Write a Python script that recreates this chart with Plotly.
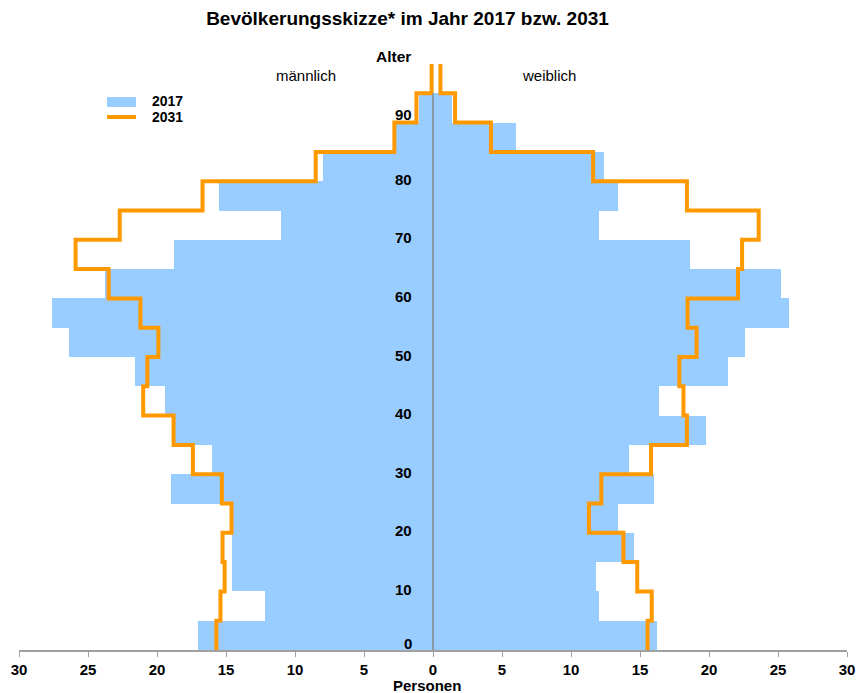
import plotly.graph_objects as go

# Age groups (lower bound of 5-year groups)
age_groups = [0, 5, 10, 15, 20, 25, 30, 35, 40, 45, 50, 55, 60, 65, 70, 75, 80, 85, 90, 95]
group_width = 5

male_2017 = [17.0, 12.2, 14.6, 14.6, 14.6, 19.0, 16.0, 18.7, 19.4, 21.6,
             26.4, 27.6, 23.8, 18.8, 11.0, 15.5, 8.0, 2.7, 1.03, 0.0]
female_2017 = [16.2, 12.0, 11.8, 14.6, 13.4, 16.0, 14.2, 19.8, 16.4, 21.4,
               22.6, 25.8, 25.2, 18.6, 12.0, 13.4, 12.4, 6.0, 1.36, 0.0]
male_2031 = [15.7, 15.4, 15.1, 15.25, 14.6, 15.3, 17.4, 18.8, 21.0, 20.7,
             19.9, 21.2, 23.5, 25.9, 22.7, 16.7, 8.5, 2.8, 1.2, 0.1]
female_2031 = [15.55, 15.85, 14.8, 13.8, 11.3, 12.2, 15.8, 18.4, 18.15, 17.85,
               19.1, 18.45, 22.1, 22.4, 23.6, 18.4, 11.6, 4.2, 1.6, 0.54]

x_ticks = [-30, -25, -20, -15, -10, -5, 0, 5, 10, 15, 20, 25, 30]
y_tick_ages = [0, 10, 20, 30, 40, 50, 60, 70, 80, 90]

title_text = "Bevölkerungsskizze* im Jahr 2017 bzw. 2031"
series_names = ["2017", "2031"]

BLUE = "#99CCFF"
ORANGE = "#FF9900"
FONT = "Liberation Sans, Arial, sans-serif"

fig = go.Figure()

# 2017 bars (male negative, female positive)
centers = [a + group_width / 2 for a in age_groups]
fig.add_trace(go.Bar(
    x=[-v for v in male_2017] + female_2017,
    y=centers + centers,
    width=[group_width] * (2 * len(age_groups)),
    orientation="h",
    marker=dict(color=BLUE, line=dict(width=0)),
    name=series_names[0],
    showlegend=False,
))

# 2031 step lines
step_y = age_groups + [age_groups[-1] + group_width]
for vals, sign in ((male_2031, -1), (female_2031, 1)):
    fig.add_trace(go.Scatter(
        x=[sign * v for v in vals] + [sign * vals[-1]],
        y=step_y,
        mode="lines",
        line=dict(color=ORANGE, width=4, shape="vh"),
        name=series_names[1],
        showlegend=False,
    ))

top_bar = group_width * sum(1 for m, f in zip(male_2017, female_2017) if m > 0 or f > 0)

shapes = [
    # centre line (age axis)
    dict(type="line", xref="x", yref="y", x0=0, x1=0, y0=0, y1=top_bar,
         line=dict(color="#8A99A8", width=2), layer="above"),
    # custom legend
    dict(type="rect", xref="paper", yref="paper", x0=0.1063, x1=0.1413,
         y0=0.9266, y1=0.9437, fillcolor=BLUE, line=dict(width=0)),
    dict(type="line", xref="paper", yref="paper", x0=0.1063, x1=0.1413,
         y0=0.9096, y1=0.9096, line=dict(color=ORANGE, width=4)),
]

annotations = []
for age in y_tick_ages:
    shift = 7 if age == 0 else (8 if age == 90 else 2)
    annotations.append(dict(x=0, y=age, xref="x", yref="y", text=f"<b>{age}</b>",
                            showarrow=False, xanchor="right", yanchor="middle",
                            xshift=-19, yshift=shift,
                            font=dict(size=15, color="black", family=FONT)))
annotations += [
    dict(x=0.4517, y=1.012, xref="paper", yref="paper", text="<b>Alter</b>",
         showarrow=False, xanchor="center", yanchor="middle",
         font=dict(size=15.5, color="black", family=FONT)),
    dict(x=0.3466, y=0.981, xref="paper", yref="paper", text="männlich",
         showarrow=False, xanchor="center", yanchor="middle",
         font=dict(size=15, color="black", family=FONT)),
    dict(x=0.640, y=0.981, xref="paper", yref="paper", text="weiblich",
         showarrow=False, xanchor="center", yanchor="middle",
         font=dict(size=15, color="black", family=FONT)),
    dict(x=0.4928, y=-0.06, xref="paper", yref="paper", text="<b>Personen</b>",
         showarrow=False, xanchor="center", yanchor="middle",
         font=dict(size=15, color="black", family=FONT)),
    dict(x=0.1582, y=0.9369, xref="paper", yref="paper", text=f"<b>{series_names[0]}</b>",
         showarrow=False, xanchor="left", yanchor="middle",
         font=dict(size=14, color="black", family=FONT)),
    dict(x=0.1582, y=0.9096, xref="paper", yref="paper", text=f"<b>{series_names[1]}</b>",
         showarrow=False, xanchor="left", yanchor="middle",
         font=dict(size=14, color="black", family=FONT)),
]

fig.update_layout(
    width=856, height=693,
    margin=dict(l=19, r=9, t=64, b=43, autoexpand=False),
    paper_bgcolor="white", plot_bgcolor="white",
    barmode="overlay", bargap=0,
    title=dict(text=f"<b>{title_text}</b>", x=407.5 / 856, xanchor="center",
               y=1 - 18 / 693, yanchor="middle", yref="container",
               font=dict(size=19, color="black", family=FONT)),
    xaxis=dict(range=[-30, 30], tickvals=x_ticks, ticktext=[f"<b>{abs(t)}</b>" for t in x_ticks],
               showgrid=False, zeroline=False, showline=True, linecolor="#A0A0A0",
               linewidth=1.5, ticks="outside", ticklen=5, tickcolor="#A0A0A0",
               automargin=False,
               tickfont=dict(size=15, color="black", family=FONT)),
    yaxis=dict(range=[0, 100], showgrid=False, zeroline=False, showline=False,
               showticklabels=False, ticks="", automargin=False),
    shapes=shapes,
    annotations=annotations,
    showlegend=False,
)

fig.write_html(
    "out.html",
    config={"displayModeBar": False},
    post_script="document.body.style.margin='0';document.body.style.overflow='hidden';",
)
